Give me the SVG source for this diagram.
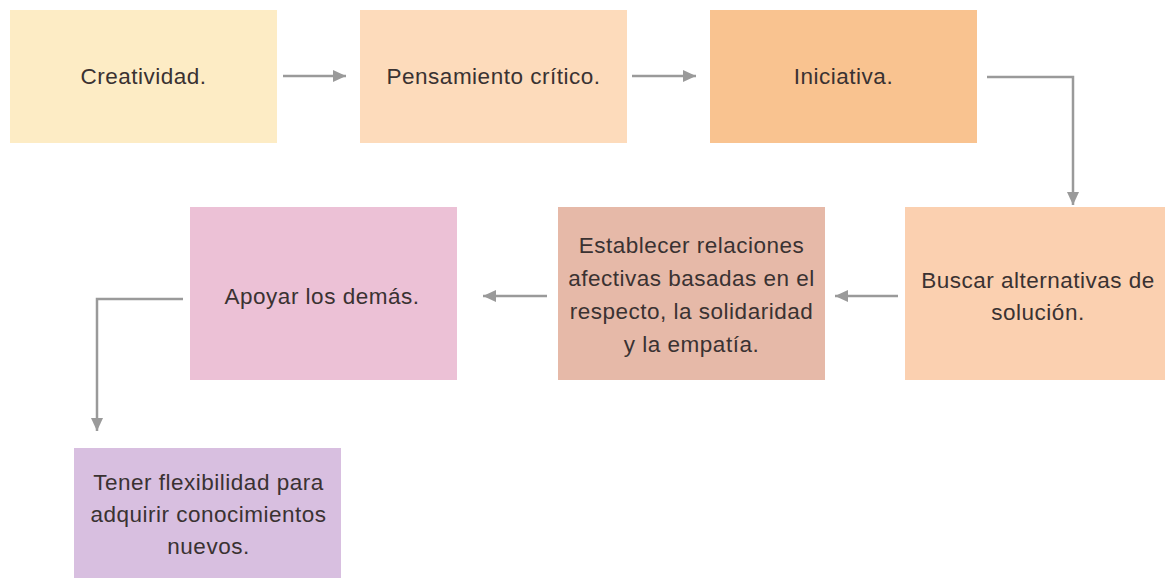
<svg xmlns="http://www.w3.org/2000/svg" width="1165" height="578" viewBox="0 0 1165 578">
  <style>
    .lbl { font-family: "Liberation Sans", Arial, sans-serif; font-size: 22.5px; fill: #3a3232; text-anchor: middle; letter-spacing: 0.5px; }
    .conn { fill: none; stroke: #9a9a9a; stroke-width: 2.5; marker-end: url(#arrow); }
  </style>
  <defs>
    <marker id="arrow" markerUnits="userSpaceOnUse" markerWidth="14" markerHeight="12" refX="13" refY="6" orient="auto">
      <path d="M0,0 L13,6 L0,12 Z" fill="#9a9a9a"/>
    </marker>
  </defs>
  <rect width="1165" height="578" fill="#ffffff"/>

  <g id="n1">
    <rect x="10" y="10" width="267" height="133" fill="#fdecc5"/>
    <text class="lbl" x="143.5" y="84">Creatividad.</text>
  </g>
  <g id="n2">
    <rect x="360" y="10" width="267" height="133" fill="#fddbbb"/>
    <text class="lbl" x="493.5" y="84">Pensamiento crítico.</text>
  </g>
  <g id="n3">
    <rect x="710" y="10" width="267" height="133" fill="#f9c390"/>
    <text class="lbl" x="843.5" y="84">Iniciativa.</text>
  </g>
  <g id="n4">
    <rect x="905" y="207" width="260" height="173" fill="#fbd0b0"/>
    <text class="lbl" x="1038" y="288">Buscar alternativas de</text>
    <text class="lbl" x="1038" y="320">solución.</text>
  </g>
  <g id="n5">
    <rect x="558" y="207" width="267" height="173" fill="#e6b9a8"/>
    <text class="lbl" x="691.5" y="253">Establecer relaciones</text>
    <text class="lbl" x="691.5" y="286">afectivas basadas en el</text>
    <text class="lbl" x="691.5" y="319">respecto, la solidaridad</text>
    <text class="lbl" x="691.5" y="352">y la empatía.</text>
  </g>
  <g id="n6">
    <rect x="190" y="207" width="267" height="173" fill="#ecc1d6"/>
    <text class="lbl" x="322" y="304">Apoyar los demás.</text>
  </g>
  <g id="n7">
    <rect x="74" y="448" width="267" height="130" fill="#d8bfe0"/>
    <text class="lbl" x="208.5" y="490">Tener flexibilidad para</text>
    <text class="lbl" x="208.5" y="522">adquirir conocimientos</text>
    <text class="lbl" x="208.5" y="554">nuevos.</text>
  </g>

  <g id="connectors">
    <path class="conn" d="M283,76 L346,76"/>
    <path class="conn" d="M632,76 L696,76"/>
    <path class="conn" d="M987,77 L1073,77 L1073,205"/>
    <path class="conn" d="M898,296 L835,296"/>
    <path class="conn" d="M547,296 L483,296"/>
    <path class="conn" d="M183,299 L97,299 L97,431"/>
  </g>
</svg>
